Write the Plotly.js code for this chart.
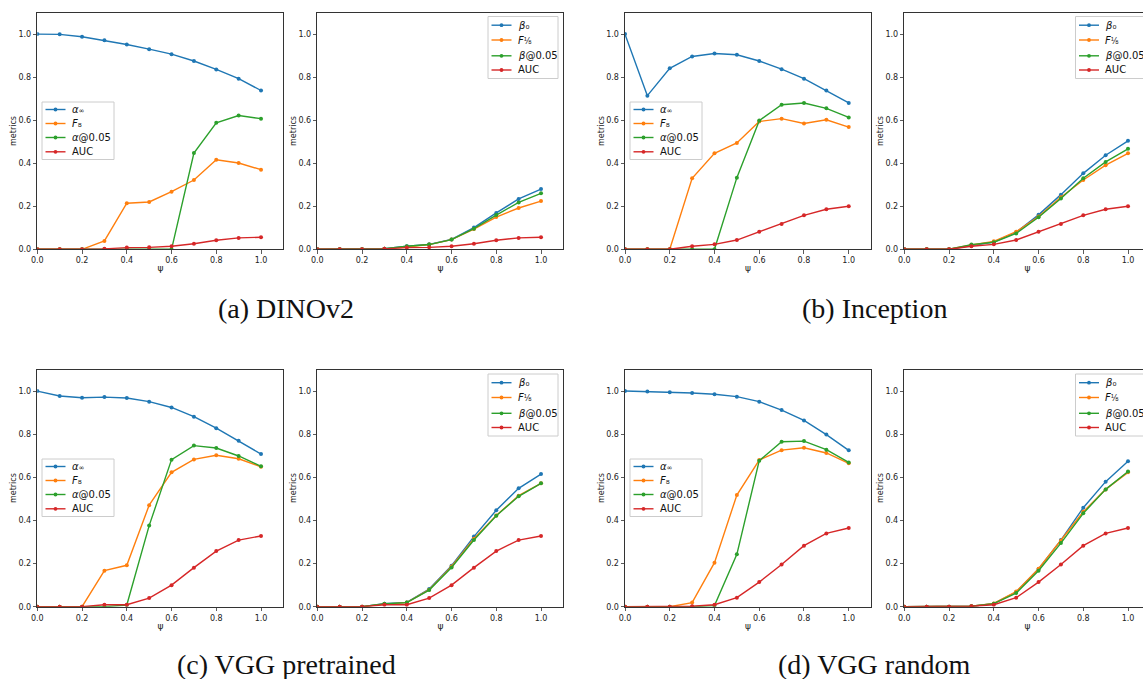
<!DOCTYPE html>
<html><head><meta charset="utf-8">
<script src="https://cdn.plot.ly/plotly-3.0.1.min.js"></script>
<style>html,body{margin:0;padding:0;overflow:hidden;background:#fff}#chart{width:1180px;height:679px}</style>
</head><body><div id="chart"></div>
<script>
// ---------- data ----------
const psi = [0.0, 0.1, 0.2, 0.3, 0.4, 0.5, 0.6, 0.7, 0.8, 0.9, 1.0];
const tickValues = [0.0, 0.2, 0.4, 0.6, 0.8, 1.0];

// (a) DINOv2
const dino_alphaInf  = [1.000, 0.999, 0.988, 0.971, 0.952, 0.930, 0.907, 0.875, 0.836, 0.793, 0.738];
const dino_F8        = [0, 0, 0, 0.039, 0.214, 0.220, 0.268, 0.322, 0.416, 0.401, 0.370];
const dino_alpha005  = [0, 0, 0, 0, 0, 0, 0, 0.447, 0.588, 0.622, 0.607];
const dino_AUC       = [0, 0, 0, 0.002, 0.008, 0.009, 0.014, 0.026, 0.042, 0.053, 0.056];
const dino_beta0     = [0, 0, 0, 0.003, 0.014, 0.023, 0.046, 0.101, 0.169, 0.234, 0.280];
const dino_F18       = [0, 0, 0, 0.002, 0.011, 0.022, 0.045, 0.094, 0.150, 0.192, 0.224];
const dino_beta005   = [0, 0, 0, 0.003, 0.014, 0.022, 0.045, 0.096, 0.159, 0.218, 0.260];

// (b) Inception
const incep_alphaInf = [1.000, 0.714, 0.841, 0.896, 0.910, 0.904, 0.875, 0.837, 0.793, 0.738, 0.680];
const incep_F8       = [0, 0, 0, 0.330, 0.446, 0.494, 0.594, 0.607, 0.585, 0.602, 0.568];
const incep_alpha005 = [0, 0, 0, 0, 0, 0.333, 0.598, 0.672, 0.680, 0.655, 0.613];
const incep_AUC      = [0, 0, 0, 0.014, 0.023, 0.043, 0.082, 0.118, 0.158, 0.186, 0.200];
const incep_beta0    = [0, 0, 0, 0.017, 0.034, 0.079, 0.160, 0.254, 0.353, 0.437, 0.504];
const incep_F18      = [0, 0, 0, 0.020, 0.037, 0.082, 0.152, 0.242, 0.322, 0.391, 0.446];
const incep_beta005  = [0, 0, 0, 0.022, 0.033, 0.074, 0.149, 0.236, 0.330, 0.406, 0.467];

// (c) VGG pretrained
const vggp_alphaInf  = [1.000, 0.977, 0.969, 0.972, 0.968, 0.951, 0.924, 0.881, 0.828, 0.770, 0.708];
const vggp_F8        = [0, 0, 0, 0.167, 0.192, 0.471, 0.623, 0.683, 0.702, 0.686, 0.649];
const vggp_alpha005  = [0, 0, 0, 0, 0.008, 0.376, 0.682, 0.747, 0.736, 0.699, 0.651];
const vggp_AUC       = [0, 0, 0, 0.009, 0.009, 0.040, 0.100, 0.181, 0.258, 0.309, 0.328];
const vggp_beta0     = [0, 0, 0, 0.014, 0.020, 0.082, 0.190, 0.325, 0.447, 0.549, 0.615];
const vggp_F18       = [0, 0, 0, 0.012, 0.019, 0.079, 0.187, 0.315, 0.423, 0.515, 0.572];
const vggp_beta005   = [0, 0, 0, 0.014, 0.019, 0.077, 0.182, 0.309, 0.422, 0.512, 0.572];

// (d) VGG random
const vggr_alphaInf  = [1.000, 0.998, 0.995, 0.991, 0.985, 0.974, 0.951, 0.912, 0.864, 0.798, 0.725];
const vggr_F8        = [0, 0, 0, 0.019, 0.204, 0.518, 0.680, 0.726, 0.737, 0.713, 0.665];
const vggr_alpha005  = [0, 0, 0, 0, 0.005, 0.243, 0.677, 0.765, 0.768, 0.728, 0.669];
const vggr_AUC       = [0, 0, 0, 0.002, 0.009, 0.042, 0.114, 0.196, 0.283, 0.340, 0.365];
const vggr_beta0     = [0, 0, 0, 0.002, 0.014, 0.068, 0.175, 0.309, 0.459, 0.580, 0.675];
const vggr_F18       = [0, 0, 0, 0.002, 0.015, 0.070, 0.176, 0.306, 0.440, 0.544, 0.623];
const vggr_beta005   = [0, 0, 0, 0.002, 0.014, 0.063, 0.167, 0.295, 0.433, 0.544, 0.627];

const leftLabels  = ['<i>α</i><span style="font-size:7px">∞</span>', '<i>F</i>₈', '<i>α</i>@0.05', 'AUC'];
const rightLabels = ['<i>β</i>₀', '<i>F</i><span style="font-size:8px">⅛</span>', '<i>β</i>@0.05', 'AUC'];
const captions = ['(a) DINOv2', '(b) Inception', '(c) VGG pretrained', '(d) VGG random'];

// ---------- layout helpers ----------
const W = 1180, H = 679;
const colors = ['#1f77b4', '#ff7f0e', '#2ca02c', '#d62728'];

// legend box styles (pixel geometry)
const legLeftStyle  = {w: 72, h: 57.5, rows: [7.5, 21.5, 35.5, 49.8]};
const legRightStyle = {w: 70, h: 62, rows: [8.7, 23.5, 39.3, 53.5]};

// panel pixel boxes [left, right, top, bottom]
const panels = [
  {series: [dino_alphaInf, dino_F8, dino_alpha005, dino_AUC], labels: leftLabels, box: [37.3, 283.4, 12.6, 249.3], leg: {x: 42, y: 102, s: legLeftStyle}},
  {series: [dino_beta0, dino_F18, dino_beta005, dino_AUC], labels: rightLabels, box: [317.3, 563.4, 12.6, 249.3], leg: {x: 488, y: 16.5, s: legRightStyle}},
  {series: [incep_alphaInf, incep_F8, incep_alpha005, incep_AUC], labels: leftLabels, box: [625.0, 871.1, 12.6, 249.3], leg: {x: 630, y: 102, s: legLeftStyle}},
  {series: [incep_beta0, incep_F18, incep_beta005, incep_AUC], labels: rightLabels, box: [904.3, 1150.4, 12.6, 249.3], leg: {x: 1075.5, y: 16.5, s: legRightStyle}},
  {series: [vggp_alphaInf, vggp_F8, vggp_alpha005, vggp_AUC], labels: leftLabels, box: [37.3, 283.4, 369.5, 606.7], leg: {x: 42, y: 459, s: legLeftStyle}},
  {series: [vggp_beta0, vggp_F18, vggp_beta005, vggp_AUC], labels: rightLabels, box: [317.3, 563.4, 369.5, 606.7], leg: {x: 488, y: 374, s: legRightStyle}},
  {series: [vggr_alphaInf, vggr_F8, vggr_alpha005, vggr_AUC], labels: leftLabels, box: [625.0, 871.1, 369.5, 606.7], leg: {x: 630, y: 459, s: legLeftStyle}},
  {series: [vggr_beta0, vggr_F18, vggr_beta005, vggr_AUC], labels: rightLabels, box: [904.3, 1150.4, 369.5, 606.7], leg: {x: 1075.5, y: 374, s: legRightStyle}}
];

const tickFont = {family: 'DejaVu Sans', size: 8, color: '#222'};
function axisBase() {
  return {
    range: [0, 1.1], showgrid: false, zeroline: false,
    showline: true, mirror: true, linecolor: '#333', linewidth: 1,
    ticks: 'outside', ticklen: 3.5, tickwidth: 0.8, tickcolor: '#333',
    tickvals: tickValues, tickformat: '.1f', tickfont: tickFont,
    fixedrange: true, automargin: false
  };
}
const px = v => v / W;
const py = v => 1 - v / H;

const traces = [];
const layout = {
  width: W, height: H,
  margin: {l: 0, r: 0, t: 0, b: 0, pad: 0},
  paper_bgcolor: '#ffffff', plot_bgcolor: '#ffffff',
  font: {family: 'DejaVu Sans', color: '#222'},
  annotations: [], shapes: [],
  showlegend: false
};

panels.forEach((p, i) => {
  const n = i + 1;
  const xa = n === 1 ? 'x' : 'x' + n;
  const ya = n === 1 ? 'y' : 'y' + n;
  p.series.forEach((vals, k) => {
    traces.push({
      type: 'scatter', mode: 'lines+markers',
      x: psi, y: vals, xaxis: xa, yaxis: ya,
      name: p.labels[k], showlegend: false,
      line: {color: colors[k], width: 1.4},
      marker: {color: colors[k], size: 4},
      hoverinfo: 'skip'
    });
  });
  const [l, r, t, b] = p.box;
  const xAx = axisBase();
  xAx.domain = [px(l), Math.min(px(r), 1)];
  xAx.anchor = ya;
  xAx.title = {text: 'ψ', font: {family: 'DejaVu Sans', size: 9, color: '#222'}, standoff: 0};
  const yAx = axisBase();
  yAx.domain = [py(b), py(t)];
  yAx.anchor = xa;
  yAx.title = {text: 'metrics', font: {family: 'DejaVu Sans', size: 8, color: '#222'}, standoff: 0};
  layout[n === 1 ? 'xaxis' : 'xaxis' + n] = xAx;
  layout[n === 1 ? 'yaxis' : 'yaxis' + n] = yAx;

  // legend (matplotlib style box)
  const L = p.leg, s = L.s;
  layout.shapes.push({
    type: 'rect', xref: 'paper', yref: 'paper', layer: 'above',
    x0: px(L.x), x1: px(L.x + s.w), y0: py(L.y + s.h), y1: py(L.y),
    fillcolor: 'rgba(255,255,255,0.8)', line: {color: '#cccccc', width: 1}
  });
  s.rows.forEach((off, k) => {
    const cy = L.y + off;
    layout.shapes.push({
      type: 'line', xref: 'paper', yref: 'paper', layer: 'above',
      x0: px(L.x + 3.5), x1: px(L.x + 23.5), y0: py(cy), y1: py(cy),
      line: {color: colors[k], width: 1.4}
    });
    layout.shapes.push({
      type: 'circle', xref: 'paper', yref: 'paper', layer: 'above',
      x0: px(L.x + 11.6), x1: px(L.x + 15.4), y0: py(cy + 1.9), y1: py(cy - 1.9),
      fillcolor: colors[k], line: {color: colors[k], width: 0}
    });
    layout.annotations.push({
      text: p.labels[k], xref: 'paper', yref: 'paper',
      x: px(L.x + 28.5), y: py(cy), xanchor: 'left', yanchor: 'middle',
      showarrow: false, borderpad: 0,
      font: {family: 'DejaVu Sans', size: 10, color: '#111'}
    });
  });
});

// sub-figure captions
const capPos = [[286, 309], [874, 309], [286, 664], [874, 664]];
captions.forEach((c, i) => {
  layout.annotations.push({
    text: c, xref: 'paper', yref: 'paper',
    x: px(capPos[i][0]), y: py(capPos[i][1]),
    xanchor: 'center', yanchor: 'middle', showarrow: false,
    font: {family: 'Liberation Serif', size: 28, color: '#111'}
  });
});

Plotly.newPlot('chart', traces, layout, {staticPlot: true, displayModeBar: false});
</script>
</body></html>
